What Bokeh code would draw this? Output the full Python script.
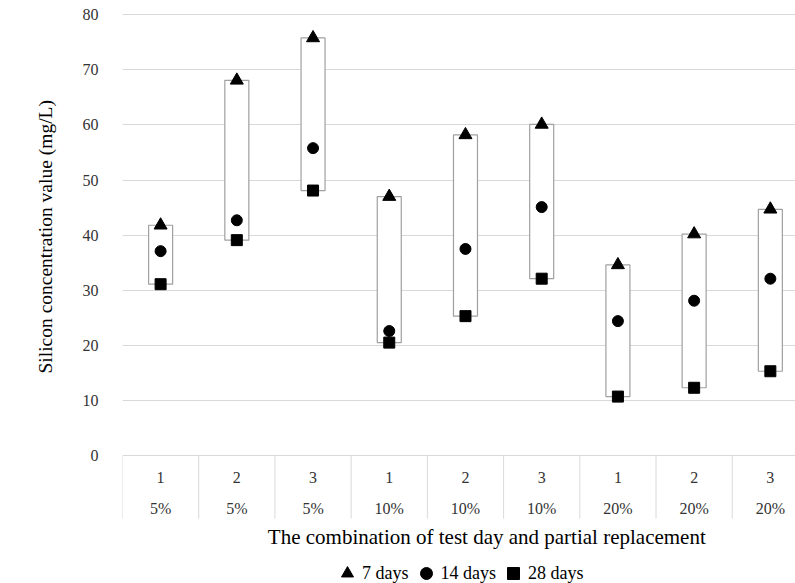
from bokeh.plotting import figure
from bokeh.models import (ColumnDataSource, FixedTicker, LinearAxis, Legend,
                          LegendItem, Range1d, Label, Title)
from bokeh.core.properties import value
from bokeh.embed import file_html
from bokeh.resources import INLINE

# ---------------- data ----------------
test_day = ["1", "2", "3", "1", "2", "3", "1", "2", "3"]
replacement = ["5%", "5%", "5%", "10%", "10%", "10%", "20%", "20%", "20%"]
days7 = [41.8, 68.1, 75.8, 47.0, 58.2, 60.1, 34.6, 40.2, 44.7]
days14 = [37.1, 42.7, 55.8, 22.6, 37.5, 45.1, 24.4, 28.1, 32.1]
days28 = [31.1, 39.1, 48.1, 20.5, 25.3, 32.1, 10.7, 12.3, 15.3]
y_ticks = [0, 10, 20, 30, 40, 50, 60, 70, 80]

FONT = "Liberation Serif"
GRID = "#d9d9d9"
TICK_COLOR = "#333333"

n = len(test_day)
centers = [i + 0.5 for i in range(n)]
bounds = list(range(n + 1))

src = ColumnDataSource(dict(x=centers, d7=days7, d14=days14, d28=days28,
                            day=test_day, rep=replacement))

sep_bottom = -11.44
y_bottom = -23.23
p = figure(width=795, height=583, output_backend="svg", toolbar_location=None,
           x_range=Range1d(0, 8.83), y_range=Range1d(y_bottom, 80.42),
           x_axis_type=None, y_axis_location=None,
           min_border_left=122, min_border_right=0, min_border_top=12,
           min_border_bottom=0)
p.outline_line_color = None
p.background_fill_color = "white"
p.border_fill_color = "white"

# y axis (tick labels)
yax = LinearAxis(ticker=FixedTicker(ticks=y_ticks), bounds=(0, 80))
yax.axis_line_color = None
yax.major_tick_line_color = None
yax.minor_tick_line_color = None
yax.major_label_standoff = 18
yax.major_label_text_font = FONT
yax.major_label_text_font_size = "16px"
yax.major_label_text_color = TICK_COLOR
p.add_layout(yax, "left")

# y-axis title, placed along the 0-80 value span
ytitle = Title(text="Silicon concentration value (mg/L)", align="left",
               offset=210, standoff=48,
               text_font=FONT, text_font_size="19.5px",
               text_font_style="normal", text_color="#000000")
p.add_layout(ytitle, "left")

p.ygrid.ticker = FixedTicker(ticks=y_ticks)
p.ygrid.grid_line_color = GRID
p.xgrid.grid_line_color = None

# category separators and labels
p.segment(x0=bounds, x1=bounds, y0=[0] * (n + 1), y1=[sep_bottom] * (n + 1),
          line_color=GRID, line_width=1)
p.text(x="x", y=-4.0, text="day", source=src, text_font=value(FONT),
       text_font_size="16px", text_align="center", text_baseline="middle",
       text_color=TICK_COLOR)
p.text(x="x", y=-9.6, text="rep", source=src, text_font=value(FONT),
       text_font_size="16px", text_align="center", text_baseline="middle",
       text_color=TICK_COLOR)

# x-axis title
xtitle = Label(x=4.78, y=-14.7, text="The combination of test day and partial replacement",
               text_font=FONT, text_font_size="21px", text_align="center",
               text_baseline="middle", text_color="#000000")
p.add_layout(xtitle)

# high-low boxes
p.vbar(x="x", top="d7", bottom="d28", width=0.315, source=src,
       fill_color="white", line_color="#a0a0a0", line_width=1.2)

r7 = p.scatter(x="x", y="d7", source=src, marker="triangle", size=13,
               fill_color="black", line_color="black")
r14 = p.scatter(x="x", y="d14", source=src, marker="circle", size=11,
                fill_color="black", line_color="black")
r28 = p.scatter(x="x", y="d28", source=src, marker="square", size=11,
                fill_color="black", line_color="black")

legend = Legend(items=[LegendItem(label="7 days", renderers=[r7]),
                       LegendItem(label="14 days", renderers=[r14]),
                       LegendItem(label="28 days", renderers=[r28])],
                orientation="horizontal", location=(210, -5))
legend.label_text_font = FONT
legend.label_text_font_size = "18px"
legend.label_text_color = "#000000"
legend.border_line_color = None
legend.background_fill_alpha = 0
legend.glyph_width = 30
legend.glyph_height = 30
legend.label_standoff = -6
legend.spacing = 2
legend.padding = 0
legend.margin = 0
p.add_layout(legend)

open("out.html", "w").write(file_html(p, INLINE))
